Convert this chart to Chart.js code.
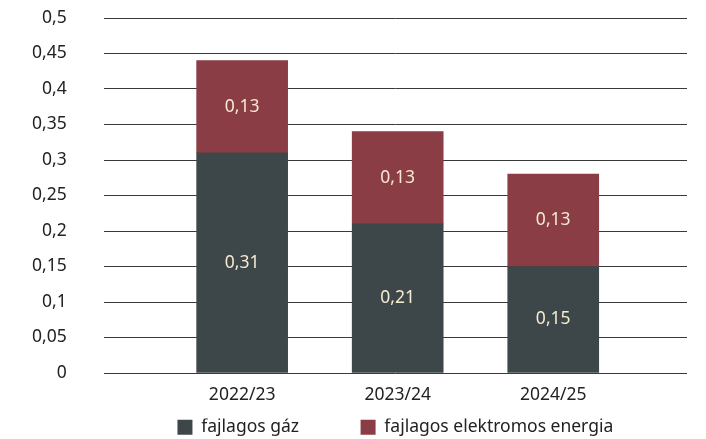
<!DOCTYPE html>
<html>
<head>
<meta charset="utf-8">
<script src="https://cdn.jsdelivr.net/npm/chart.js@4"></script>
<style>
  html, body { margin: 0; padding: 0; background: #fff; }
  #wrap { width: 706px; height: 439px; }
</style>
</head>
<body>
<div id="wrap"><canvas id="energyChart"></canvas></div>
<script>
// Adatok
var categories = ['2022/23', '2023/24', '2024/25'];
var gasValues = [0.31, 0.21, 0.15];
var electricValues = [0.13, 0.13, 0.13];
var seriesNames = ['fajlagos gáz', 'fajlagos elektromos energia'];

var gasColor = '#3d4749';
var electricColor = '#8b3d45';
var labelColor = '#f6ead2';
var fontFamily = "'Noto Sans', sans-serif";

function fmt(v) {
    return Number(v.toFixed(2)).toString().replace('.', ',');
}

function toPoints(values) {
    return values.map(function(v, i) {
        return { x: i + 1, y: v };
    });
}

// Értékek kiírása a sávok közepére
var barLabels = {
    id: 'barLabels',
    afterDatasetsDraw: function(chart) {
        var ctx = chart.ctx;
        ctx.save();
        ctx.font = '17.5px ' + fontFamily;
        ctx.fillStyle = labelColor;
        ctx.textAlign = 'center';
        ctx.textBaseline = 'middle';
        chart.data.datasets.forEach(function(ds, di) {
            var meta = chart.getDatasetMeta(di);
            meta.data.forEach(function(bar, i) {
                var p = bar.getProps(['x', 'y', 'base'], true);
                ctx.fillText(fmt(ds.data[i].y), p.x, (p.y + p.base) / 2);
            });
        });
        ctx.restore();
    }
};

var ctx = document.getElementById('energyChart').getContext('2d');
new Chart(ctx, {
    type: 'bar',
    data: {
        datasets: [
            {
                label: seriesNames[0],
                data: toPoints(gasValues),
                backgroundColor: gasColor,
                barThickness: 91
            },
            {
                label: seriesNames[1],
                data: toPoints(electricValues),
                backgroundColor: electricColor,
                barThickness: 91
            }
        ]
    },
    options: {
        responsive: true,
        maintainAspectRatio: false,
        animation: false,
        layout: {
            padding: { top: 18, right: 19, bottom: -7, left: 32 }
        },
        plugins: {
            tooltip: { enabled: false },
            legend: {
                position: 'bottom',
                fullSize: false,
                labels: {
                    boxWidth: 15,
                    boxHeight: 15,
                    padding: 0,
                    color: '#222',
                    font: { family: fontFamily, size: 17.5 },
                    generateLabels: function(chart) {
                        var items = Chart.defaults.plugins.legend.labels.generateLabels(chart);
                        items.forEach(function(item, i) {
                            item.lineWidth = 0;
                            if (i === 0) item.text = item.text + '\u2003\u2003\u2003  ';
                        });
                        return items;
                    }
                }
            }
        },
        scales: {
            x: {
                type: 'linear',
                stacked: true,
                offset: false,
                min: 0.11,
                max: 3.86,
                grid: { display: false, drawTicks: false },
                border: { display: false },
                afterBuildTicks: function(scale) {
                    scale.ticks = categories.map(function(c, i) { return { value: i + 1 }; });
                },
                afterFit: function(scale) {
                    scale.height = scale.height + 2;
                },
                ticks: {
                    padding: 13,
                    maxRotation: 0,
                    color: '#222',
                    font: { family: fontFamily, size: 17.5, lineHeight: 1.0 },
                    callback: function(value) {
                        return categories[value - 1];
                    }
                }
            },
            y: {
                stacked: true,
                min: 0,
                max: 0.5,
                grid: {
                    color: '#3a3a3a',
                    lineWidth: 1,
                    drawTicks: true,
                    tickLength: 37,
                    tickColor: 'rgba(0,0,0,0)'
                },
                border: { display: false },
                ticks: {
                    stepSize: 0.05,
                    padding: 0,
                    color: '#222',
                    font: { family: fontFamily, size: 17.5 },
                    callback: function(value) {
                        return fmt(value);
                    }
                }
            }
        }
    },
    plugins: [barLabels]
});
</script>
</body>
</html>
